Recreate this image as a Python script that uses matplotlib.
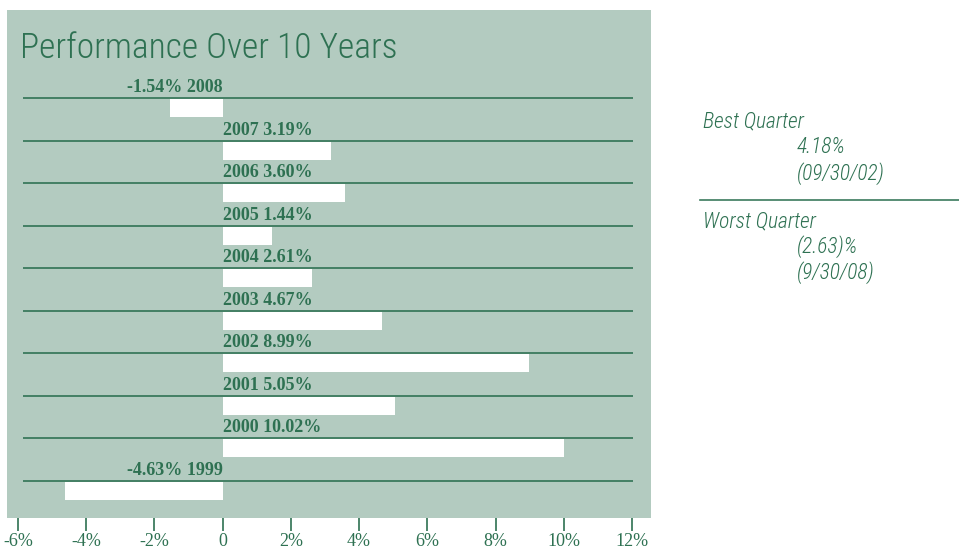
"""
Performance over 10 years: horizontal bars of yearly returns
"""
import matplotlib
matplotlib.use('Agg')
import matplotlib.pyplot as plt
from matplotlib.lines import Line2D
import numpy as np

years = ['2008', '2007', '2006', '2005', '2004', '2003', '2002', '2001', '2000', '1999']
returns = [-1.54, 3.19, 3.60, 1.44, 2.61, 4.67, 8.99, 5.05, 10.02, -4.63]
xticks = [-6, -4, -2, 0, 2, 4, 6, 8, 10, 12]

BG = '#b3cbc0'
GREEN = '#2e7152'
LINE = '#3b7a5d'
W, H = 959, 549
SANS = ['Roboto Condensed', 'DejaVu Sans']
SERIF = ['Liberation Serif', 'DejaVu Serif']

fig = plt.figure(figsize=(W / 100, H / 100), dpi=100)
fig.patch.set_facecolor('white')

# green panel in pixels: x 7..651, y 10..518
ax = fig.add_axes([7 / W, (H - 518) / H, (651 - 7) / W, (518 - 10) / H])
ax.set_facecolor(BG)

px = 18 / 614  # percent per pixel
ax.set_xlim(-6 - 11 * px, 12 + 19 * px)
unit = 42.55  # pixels between rows
ax.set_ylim((518 - 98) / unit, (10 - 98) / unit)

ypos = np.arange(len(years))
ax.hlines(ypos, -6 + 5 * px, 12 + 1 * px, color=LINE, lw=1.3, zorder=2)
ax.barh(ypos + 10 / unit, returns, height=18 / unit, color='white', zorder=3)

for y, yr, v in zip(ypos, years, returns):
    if v < 0:
        txt, ha = f'{v:.2f}% {yr}', 'right'
    else:
        txt, ha = f'{yr} {v:.2f}%', 'left'
    ax.text(0, y - 2 / unit, txt, ha=ha, va='bottom', color=GREEN,
            fontsize=13, fontweight='bold', family=SERIF, zorder=4)

ax.set_yticks([])
ax.set_xticks(xticks)
ax.set_xticklabels(['0' if t == 0 else f'{t}%' for t in xticks],
                   family=SERIF, fontsize=13, color=GREEN)
ax.tick_params(axis='x', direction='out', length=9, width=1.2,
               color=GREEN, pad=2)
for s in ax.spines.values():
    s.set_visible(False)

ax.text(13 / 644, 1 - 38 / 508, 'Performance Over 10 Years', transform=ax.transAxes,
        ha='left', va='center', fontsize=25.5, color=GREEN, family=SANS,
        fontweight='light')

# side panel
side = [
    ('Best Quarter', 703, 121),
    ('4.18%', 797, 147),
    ('(09/30/02)', 797, 174),
    ('Worst Quarter', 703, 221),
    ('(2.63)%', 797, 247),
    ('(9/30/08)', 797, 273),
]
for txt, x, y in side:
    fig.text(x / W, 1 - y / H, txt, ha='left', va='center', fontsize=15.5,
             style='italic', color=GREEN, family=SANS, fontweight='light')
fig.add_artist(Line2D([700 / W, 1], [1 - 200 / H, 1 - 200 / H],
                      color=LINE, lw=1.2))

plt.savefig('out.png', dpi=100, facecolor='white')
